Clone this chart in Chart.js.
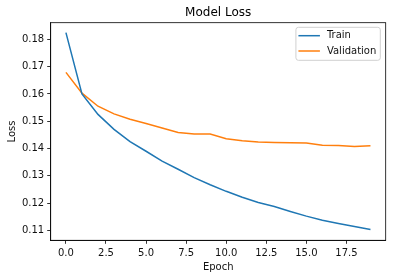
<!DOCTYPE html>
<html lang="en">
<head>
<meta charset="UTF-8">
<title>Model Loss</title>
<script src="https://cdn.jsdelivr.net/npm/chart.js"></script>
<style>
  html, body { margin: 0; padding: 0; background: #fff; }
</style>
</head>
<body>
<canvas id="lossChart" width="395" height="278"></canvas>
<script>
// values
const epochs = [0, 1, 2, 3, 4, 5, 6, 7, 8, 9, 10, 11, 12, 13, 14, 15, 16, 17, 18, 19];
const trainLoss = [0.1825, 0.1600, 0.1525, 0.1470, 0.1425, 0.1390, 0.1354, 0.1324, 0.1293, 0.1267,
                   0.1243, 0.1221, 0.1202, 0.1187, 0.1169, 0.1152, 0.1137, 0.1125, 0.1114, 0.1103];
const valLoss = [0.1679, 0.1603, 0.1555, 0.1527, 0.1507, 0.1492, 0.1475, 0.1459, 0.1453, 0.1453,
                 0.1436, 0.1428, 0.1424, 0.1422, 0.1421, 0.1420, 0.1412, 0.1411, 0.1407, 0.1410];
const xTicks = [0, 2.5, 5, 7.5, 10, 12.5, 15, 17.5];
const yTicks = [0.11, 0.12, 0.13, 0.14, 0.15, 0.16, 0.17, 0.18];

Chart.defaults.font.family = "'DejaVu Sans', sans-serif";
Chart.defaults.font.size = 10;
Chart.defaults.color = '#111';

// top/right spines + legend box inside the axes (matplotlib style)
const framePlugin = {
  id: 'frame',
  afterDraw(chart) {
    const ctx = chart.ctx;
    const a = chart.chartArea;
    ctx.save();
    ctx.strokeStyle = '#000';
    ctx.lineWidth = 0.8;
    ctx.strokeRect(a.left, a.top, a.right - a.left, a.bottom - a.top);

    // legend
    ctx.font = "10px 'DejaVu Sans', sans-serif";
    const sets = chart.data.datasets;
    let textW = 0;
    sets.forEach(ds => { textW = Math.max(textW, ctx.measureText(ds.label).width); });
    const boxW = 31 + textW + 4;
    const boxH = 33;
    const bx = a.right - 5.4 - boxW;
    const by = a.top + 4.6;
    ctx.beginPath();
    ctx.roundRect(bx, by, boxW, boxH, 2.5);
    ctx.fillStyle = 'rgba(255,255,255,0.8)';
    ctx.fill();
    ctx.strokeStyle = '#d0d0d0';
    ctx.lineWidth = 1;
    ctx.stroke();
    sets.forEach((ds, i) => {
      const yy = by + 8.4 + i * 15.3;
      ctx.beginPath();
      ctx.moveTo(bx + 2.5, yy);
      ctx.lineTo(bx + 24, yy);
      ctx.strokeStyle = ds.borderColor;
      ctx.lineWidth = 1.5;
      ctx.stroke();
      ctx.fillStyle = '#111';
      ctx.textBaseline = 'middle';
      ctx.textAlign = 'left';
      ctx.fillText(ds.label, bx + 31, yy);
    });
    ctx.restore();
  }
};

const ctx = document.getElementById('lossChart').getContext('2d');
new Chart(ctx, {
  type: 'line',
  data: {
    datasets: [
      {
        label: 'Train',
        data: epochs.map((e, i) => ({ x: e, y: trainLoss[i] })),
        borderColor: '#1f77b4',
        borderWidth: 1.5,
        pointRadius: 0,
        tension: 0,
        fill: false
      },
      {
        label: 'Validation',
        data: epochs.map((e, i) => ({ x: e, y: valLoss[i] })),
        borderColor: '#ff7f0e',
        borderWidth: 1.5,
        pointRadius: 0,
        tension: 0,
        fill: false
      }
    ]
  },
  options: {
    responsive: false,
    animation: false,
    layout: { padding: { left: 0, right: 9.3, top: 0, bottom: 0 } },
    plugins: {
      legend: { display: false },
      tooltip: { enabled: false },
      title: {
        display: true,
        text: 'Model Loss',
        fullSize: false,
        color: '#000',
        font: { size: 12, weight: 'normal' },
        padding: { top: 6, bottom: 2.3 }
      }
    },
    scales: {
      x: {
        type: 'linear',
        min: -0.95,
        max: 19.95,
        afterBuildTicks: s => { s.ticks = xTicks.map(v => ({ value: v })); },
        afterFit: s => { s.height = 37.7; },
        ticks: {
          padding: 4,
          maxRotation: 0,
          autoSkip: false,
          callback: v => v.toFixed(1)
        },
        grid: { drawOnChartArea: false, drawTicks: true, tickLength: 3.5, tickColor: '#000', tickWidth: 0.8 },
        border: { display: true, color: '#000', width: 0.8 },
        title: { display: true, text: 'Epoch', padding: { top: 0, bottom: 5 } }
      },
      y: {
        type: 'linear',
        min: 0.10634,
        max: 0.18613,
        afterBuildTicks: s => { s.ticks = yTicks.map(v => ({ value: v })); },
        afterFit: s => { s.width = 50.7; },
        ticks: {
          padding: 3,
          autoSkip: false,
          callback: v => v.toFixed(2)
        },
        grid: { drawOnChartArea: false, drawTicks: true, tickLength: 3.5, tickColor: '#000', tickWidth: 0.8 },
        border: { display: true, color: '#000', width: 0.8 },
        title: { display: true, text: 'Loss', padding: { top: 6, bottom: 0 } }
      }
    }
  },
  plugins: [framePlugin]
});
</script>
</body>
</html>
